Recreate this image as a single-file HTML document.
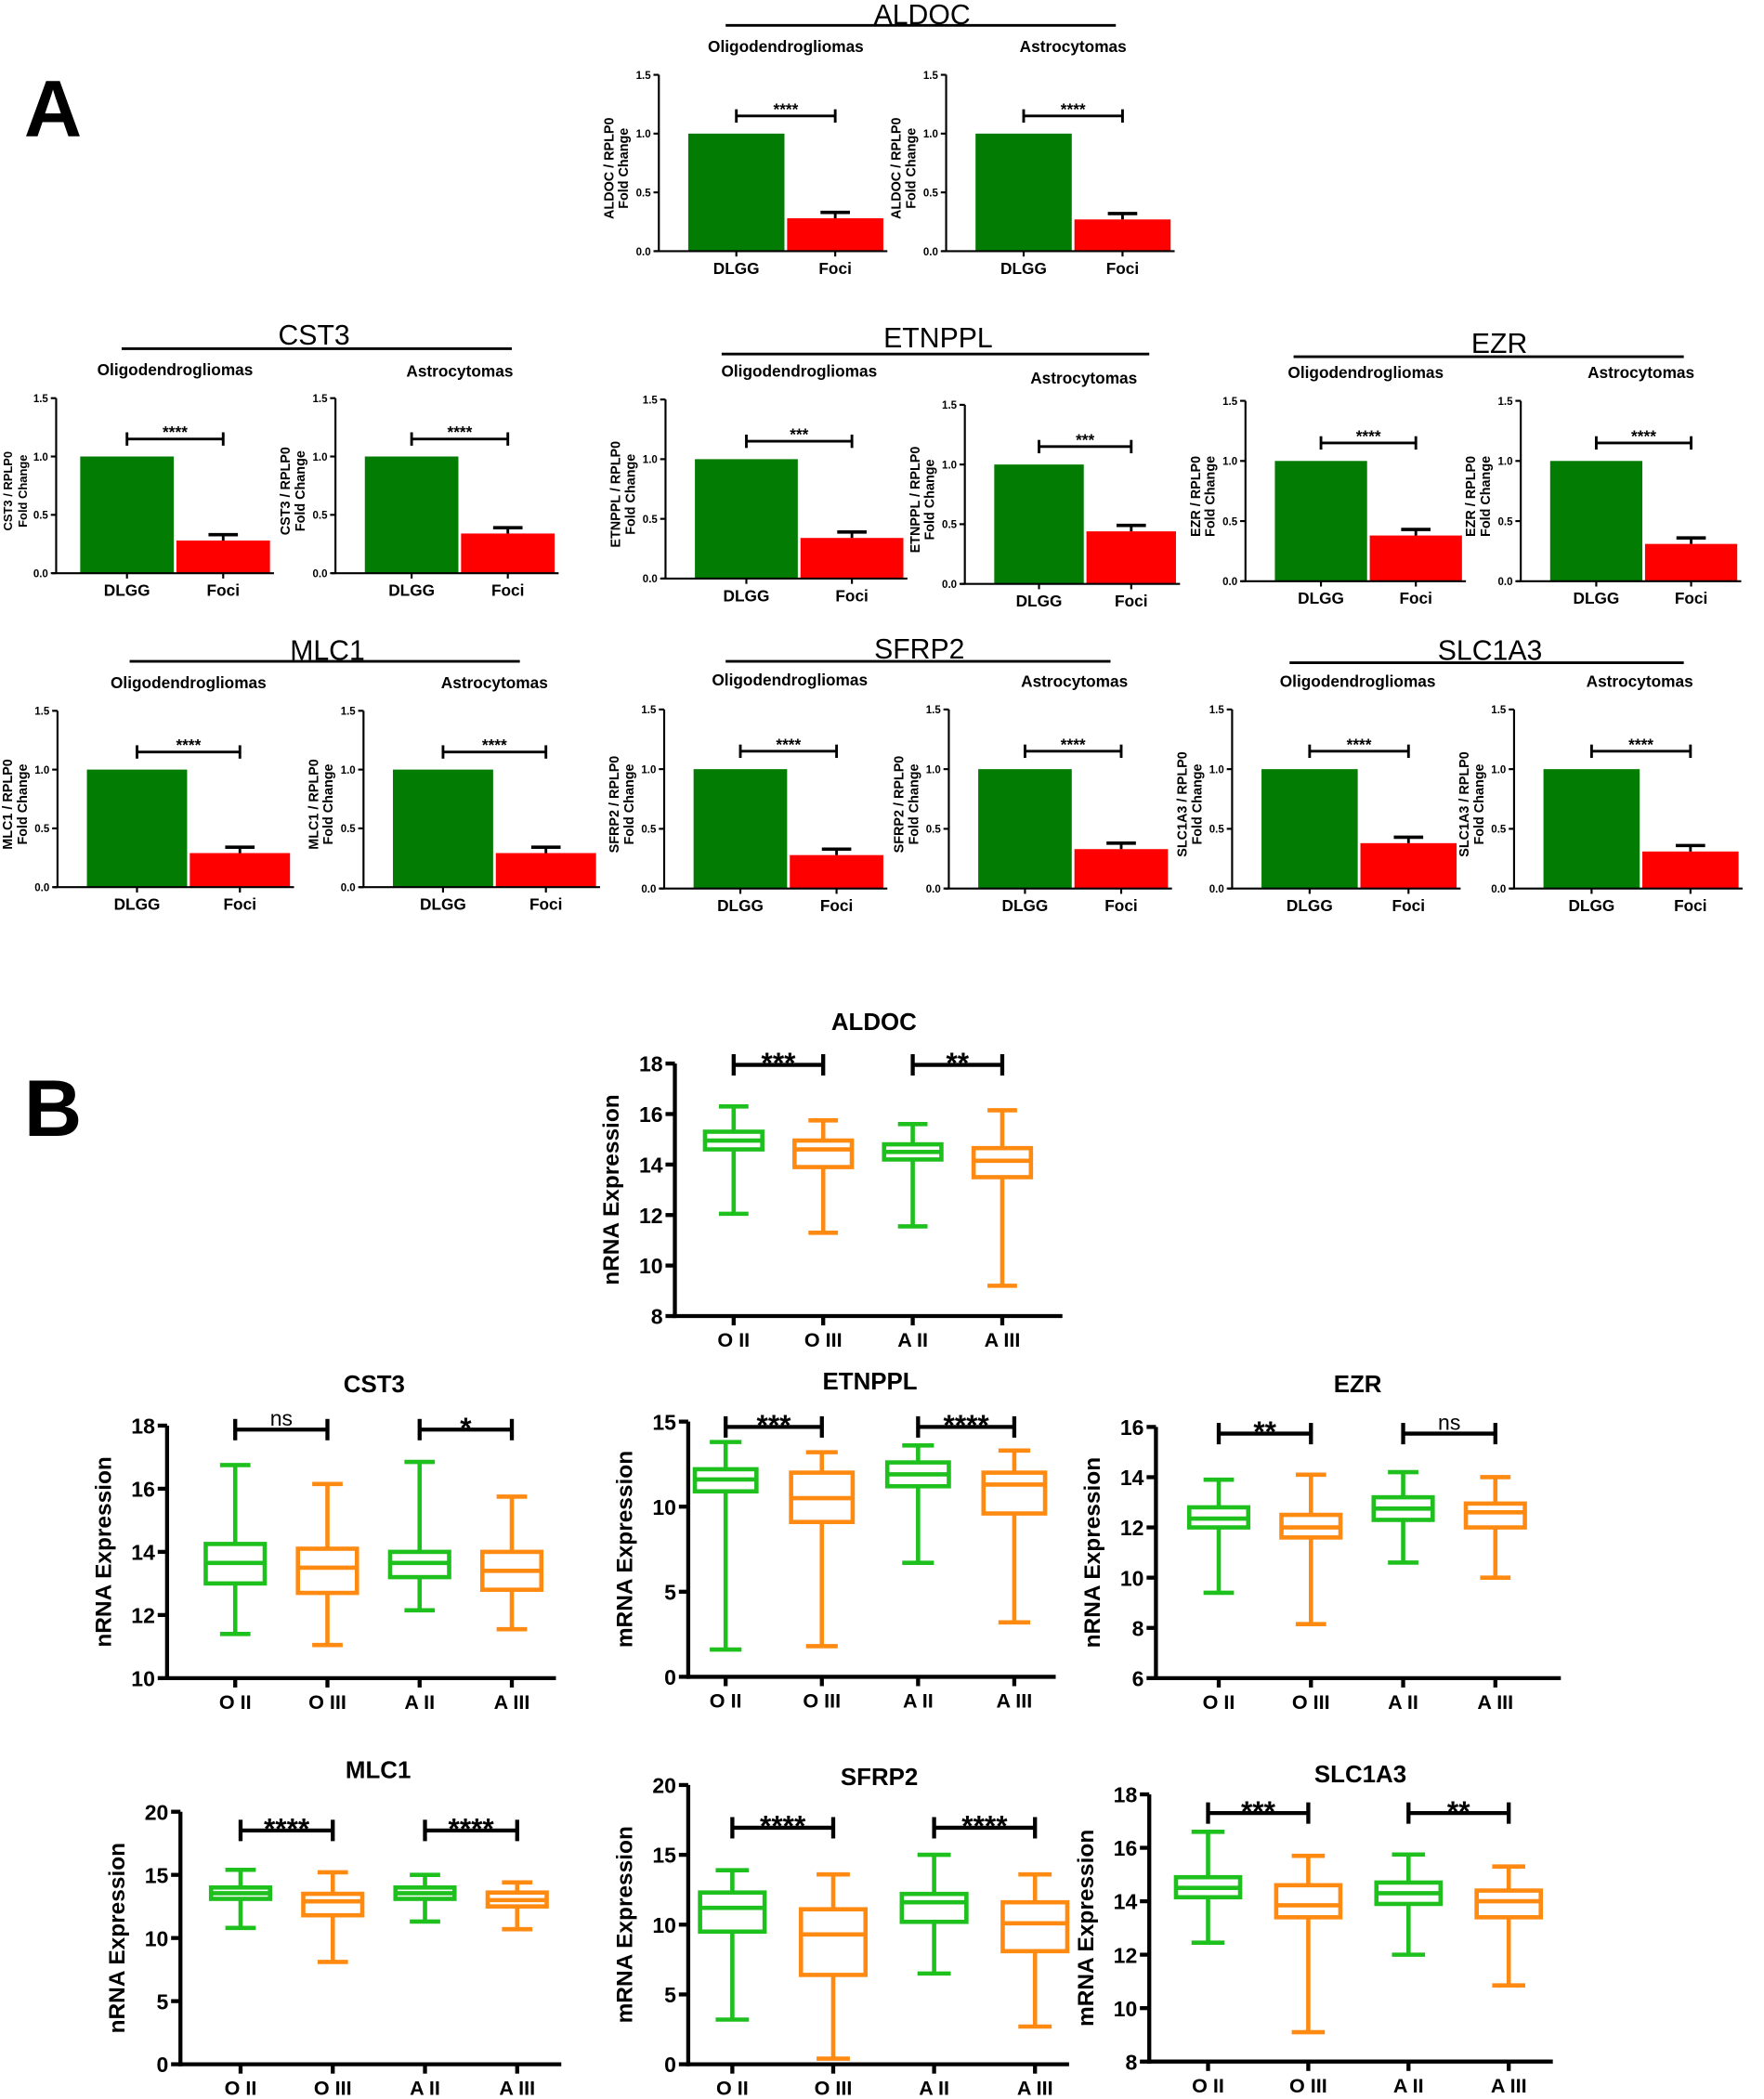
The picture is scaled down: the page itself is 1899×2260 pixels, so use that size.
<!DOCTYPE html>
<html><head><meta charset="utf-8"><style>
html,body{margin:0;padding:0;background:#fff}
svg{display:block}
text{font-family:"Liberation Sans",Arial,sans-serif;fill:#000}
</style></head><body>
<svg id="s" xmlns="http://www.w3.org/2000/svg" width="1899" height="2260" viewBox="0 0 1320 1571">
<rect width="1320" height="1571" fill="#fff"/>
<text x="18" y="102" font-size="60" font-weight="bold">A</text>
<text x="18" y="850" font-size="60" font-weight="bold">B</text>
</svg>
<script>
var s=document.getElementById('s'),o='';
function L(x1,y1,x2,y2,c,w){o+='<line x1="'+x1+'" y1="'+y1+'" x2="'+x2+'" y2="'+y2+'" stroke="'+(c||'#000')+'" stroke-width="'+(w||2)+'"/>';}
function T(x,y,t,sz,a,extra){o+='<text x="'+x+'" y="'+y+'" font-size="'+sz+'" text-anchor="'+(a||'middle')+'" '+(extra||'')+'>'+t+'</text>';}
function bar(x0,yt,yb,rv,st,gene,bw,off){
  bw=bw||72;off=off||22;var h=yb-yt,sc=h/1.5;
  var b1=x0+off,b2=b1+bw+2;
  o+='<rect x="'+b1+'" y="'+(yb-sc)+'" width="'+bw+'" height="'+sc+'" fill="#037c03"/>';
  o+='<rect x="'+b2+'" y="'+(yb-sc*rv)+'" width="'+bw+'" height="'+(sc*rv)+'" fill="#ff0000"/>';
  var c1=b1+bw/2,c2=b2+bw/2,ye=yb-sc*(rv+0.05);
  L(c2,yb-sc*rv,c2,ye,'#000',2);L(c2-11,ye,c2+11,ye,'#000',2.5);
  L(x0,yt,x0,yb,'#000',1.5);L(x0-3,yb,b2+bw+3,yb,'#000',1.5);
  [0,0.5,1,1.5].forEach(function(v){var y=yb-sc*v;L(x0-4,y,x0,y,'#000',1.5);T(x0-6,y+3,v.toFixed(1),8,'end','font-weight="bold"');});
  L(c1,yb,c1,yb+4,'#000',1.5);L(c2,yb,c2,yb+4,'#000',1.5);
  T(c1,yb+17,'DLGG',12,'middle','font-weight="bold"');T(c2,yb+17,'Foci',12,'middle','font-weight="bold"');
  var yb2=yb-sc*1.15;L(c1,yb2,c2,yb2,'#000',2);L(c1,yb2-5,c1,yb2+5,'#000',2);L(c2,yb2-5,c2,yb2+5,'#000',2);
  T((c1+c2)/2,yb2-1,st,12,'middle','font-weight="bold"');
  var my=(yt+yb)/2+4,lx=Math.max(x0-34,9),fs=x0-34<9?9:10;
  T(0,0,gene+' / RPLP0',fs,'middle','font-weight="bold" transform="translate('+lx+','+my+') rotate(-90)"');
  T(0,0,'Fold Change',fs,'middle','font-weight="bold" transform="translate('+(lx+11)+','+my+') rotate(-90)"');
}
function hdr(g,tx,ty,lx1,lx2,ly,ox,oy,ax,ay){
  T(tx,ty+8,g,21);L(lx1,ly,lx2,ly,'#000',2);
  T(ox,oy+4,'Oligodendrogliomas',12,'middle','font-weight="bold"');T(ax,ay+4,'Astrocytomas',12,'middle','font-weight="bold"');
}
hdr('ALDOC',690,10,543,835,19,588,35,803,35);
bar(493,56,188,0.28,'****','ALDOC');bar(708,56,188,0.27,'****','ALDOC');
hdr('CST3',235,250,91,383,261,131,277,344,278);
bar(42,298,429,0.28,'****','CST3',70,18);bar(251,298,429,0.34,'****','CST3',70);
hdr('ETNPPL',702,252,540,860,265,598,278,811,283);
bar(498,299,433,0.34,'***','ETNPPL',77);bar(722,303,437,0.44,'***','ETNPPL',67);
hdr('EZR',1122,256,968,1260,267,1022,279,1228,279);
bar(932,300,435,0.38,'****','EZR',69);bar(1138,300,435,0.31,'****','EZR',69);
hdr('MLC1',245,486,97,389,495,141,511,370,511);
bar(43,532,664,0.29,'****','MLC1',75);bar(272,532,664,0.29,'****','MLC1',75);
hdr('SFRP2',688,485,543,831,495,591,509,804,510);
bar(497,531,665,0.28,'****','SFRP2',70);bar(710,531,665,0.33,'****','SFRP2',70);
hdr('SLC1A3',1115,486,965,1260,496,1016,510,1227,510);
bar(922,531,665,0.38,'****','SLC1A3',72);bar(1133,531,665,0.31,'****','SLC1A3',72);

var G='#1ec01e',OR='#ff8a12';
function box(g,ax,yT,yB,xe,c0,sp,vmin,vmax,ticks,data,br,ylab,by,tx,ty){
  function Y(v){return yB-(v-vmin)/(vmax-vmin)*(yB-yT);}
  L(ax,yT,ax,yB+1.5,'#000',3);L(ax-1.5,yB,xe,yB,'#000',3);
  ticks.forEach(function(v){L(ax-7,Y(v),ax,Y(v),'#000',3);T(ax-9,Y(v)+6,v,16,'end','font-weight="bold"');});
  var labs=['O II','O III','A II','A III'],bw=sp*0.64,cw=sp*0.33;
  data.forEach(function(d,i){
    var c=c0+i*sp,col=i%2?OR:G,lw=3.2;
    L(c,yB,c,yB+7,'#000',3);
    T(c,yB+23,labs[i],15,'middle','font-weight="bold"');
    L(c,Y(d[0]),c,Y(d[2]),col,lw);L(c,Y(d[3]),c,Y(d[1]),col,lw);
    L(c-cw/2,Y(d[0]),c+cw/2,Y(d[0]),col,lw);L(c-cw/2,Y(d[1]),c+cw/2,Y(d[1]),col,lw);
    o+='<rect x="'+(c-bw/2)+'" y="'+Y(d[3])+'" width="'+bw+'" height="'+(Y(d[2])-Y(d[3]))+'" fill="none" stroke="'+col+'" stroke-width="'+lw+'"/>';
    L(c-bw/2,Y(d[4]),c+bw/2,Y(d[4]),col,lw);
  });
  [[0,1,br[0]],[2,3,br[1]]].forEach(function(b){
    var x1=c0+b[0]*sp,x2=c0+b[1]*sp,ns=b[2]=='ns';
    L(x1,by,x2,by,'#000',3);L(x1,by-8,x1,by+8,'#000',3);L(x2,by-8,x2,by+8,'#000',3);
    T((x1+x2)/2,by+(ns?-3:6),b[2],ns?16:22,'middle',ns?'':'font-weight="bold"');
  });
  T(0,0,ylab,17,'middle','font-weight="bold" transform="translate('+(ax-42)+','+((yT+yB)/2)+') rotate(-90)"');
  T(tx,ty+6,g,18,'middle','font-weight="bold"');
}
box('ALDOC',505,796,985,795,549,67,8,18,[8,10,12,14,16,18],[[12.05,16.3,14.6,15.3,14.95],[11.3,15.75,13.9,14.95,14.6],[11.55,15.6,14.2,14.8,14.5],[9.2,16.15,13.5,14.65,14.15]],['***','**'],'nRNA Expression',797,654,765);
box('CST3',125,1067,1256,416,176,69,10,18,[10,12,14,16,18],[[11.4,16.75,13.0,14.25,13.65],[11.05,16.15,12.7,14.1,13.5],[12.15,16.85,13.2,14.0,13.65],[11.55,15.75,12.8,14.0,13.4]],['ns','*'],'nRNA Expression',1070,280,1036);
box('ETNPPL',515,1064,1255,790,543,72,0,15,[0,5,10,15],[[1.6,13.8,10.9,12.2,11.6],[1.8,13.2,9.1,12.0,10.5],[6.7,13.6,11.2,12.6,11.9],[3.2,13.3,9.6,12.0,11.3]],['***','****'],'mRNA Expression',1068,651,1034);
box('EZR',865,1068,1256,1168,912,69,6,16,[6,8,10,12,14,16],[[9.4,13.9,12.0,12.8,12.35],[8.15,14.1,11.6,12.5,12.0],[10.6,14.2,12.3,13.2,12.75],[10.0,14.0,12.0,12.95,12.6]],['**','ns'],'nRNA Expression',1073,1016,1036);
box('MLC1',135,1356,1545,420,180,69,0,20,[0,5,10,15,20],[[10.8,15.4,13.1,14.0,13.55],[8.1,15.2,11.8,13.5,12.9],[11.3,15.0,13.1,14.0,13.55],[10.7,14.4,12.5,13.6,13.0]],['****','****'],'nRNA Expression',1370,283,1325);
box('SFRP2',515,1336,1545,800,548,75.5,0,20,[0,5,10,15,20],[[3.2,13.9,9.5,12.3,11.2],[0.4,13.6,6.4,11.1,9.3],[6.5,15.0,10.2,12.2,11.6],[2.7,13.6,8.1,11.6,10.1]],['****','****'],'mRNA Expression',1368,658,1330);
box('SLC1A3',860,1343,1543,1162,904,75,8,18,[8,10,12,14,16,18],[[12.45,16.6,14.15,14.9,14.5],[9.1,15.7,13.4,14.6,13.85],[12.0,15.75,13.9,14.7,14.3],[10.85,15.3,13.4,14.4,14.0]],['***','**'],'mRNA Expression',1357,1018,1328);
s.insertAdjacentHTML('beforeend',o);
</script>
</body></html>
